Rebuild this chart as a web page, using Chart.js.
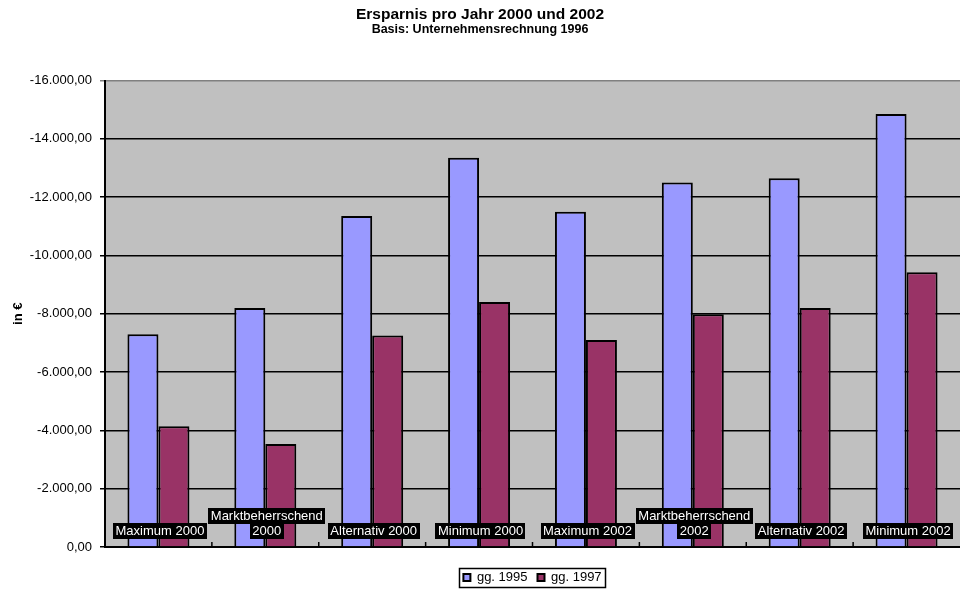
<!DOCTYPE html>
<html>
<head>
<meta charset="utf-8">
<script src="https://cdn.jsdelivr.net/npm/chart.js@4/dist/chart.umd.min.js"></script>
<style>
  html, body { margin: 0; padding: 0; background: #fff; }
  #wrap { width: 960px; height: 589px; }
</style>
</head>
<body>
<div id="wrap"><canvas id="savingsChart"></canvas></div>
<script>
// values (Euro, negative = saving)
const categories = [
    ['Maximum 2000'],
    ['Marktbeherrschend', '2000'],
    ['Alternativ 2000'],
    ['Minimum 2000'],
    ['Maximum 2002'],
    ['Marktbeherrschend', '2002'],
    ['Alternativ 2002'],
    ['Minimum 2002']
];
const seriesNames = ['gg. 1995', 'gg. 1997'];
const vs1995 = [-7300, -8200, -11350, -13350, -11500, -12500, -12650, -14850];
const vs1997 = [-4140, -3530, -7250, -8400, -7100, -7980, -8200, -9420];
const yMin = -16000;
const yMax = 0;
const yStep = 2000;

const fmtEuro = function (v) {
    let neg = v < 0;
    let s = Math.abs(Math.round(v)).toString();
    s = s.replace(/\B(?=(\d{3})+(?!\d))/g, '.');
    return (neg ? '-' : '') + s + ',00';
}

// gray plot area like the old office charts
const plotBackground = {
    id: 'plotBackground',
    beforeDraw(chart) {
        const {ctx, chartArea} = chart;
        ctx.save();
        ctx.fillStyle = '#C0C0C0';
        ctx.fillRect(chartArea.left, chartArea.top, chartArea.right - chartArea.left, chartArea.bottom - chartArea.top);
        ctx.restore();
    }
};

// category names sit inside the plot, white on black
const categoryLabels = {
    id: 'categoryLabels',
    afterDatasetsDraw(chart) {
        const {ctx, chartArea} = chart;
        const xScale = chart.scales.x;
        const lineH = 15.5;
        ctx.save();
        ctx.font = '13px Arial, "Liberation Sans", sans-serif';
        ctx.textAlign = 'center';
        ctx.textBaseline = 'middle';
        categories.forEach((lines, i) => {
            const cx = xScale.getPixelForValue(i) + 1.5;
            const lastY = chartArea.bottom - 16;
            lines.forEach((line, j) => {
                const y = lastY - (lines.length - 1 - j) * lineH;
                const w = ctx.measureText(line).width;
                ctx.fillStyle = '#000';
                ctx.fillRect(Math.round(cx - w / 2 - 2.5), Math.round(y - lineH / 2), Math.round(w + 5), lineH + 0.5);
                ctx.fillStyle = '#fff';
                ctx.fillText(line, cx, y + 0.5);
            });
        });
        // small inside tick marks between the categories
        ctx.strokeStyle = '#000';
        ctx.lineWidth = 1.5;
        const half = (xScale.getPixelForValue(1) - xScale.getPixelForValue(0)) / 2;
        for (let i = 1; i < categories.length; i++) {
            const x = xScale.getPixelForValue(i) - half;
            ctx.beginPath();
            ctx.moveTo(x, chartArea.bottom);
            ctx.lineTo(x, chartArea.bottom - 5);
            ctx.stroke();
        }
        ctx.restore();
    }
};

// framed legend box
const legendFrame = {
    id: 'legendFrame',
    afterDraw(chart) {
        const boxes = chart.legend && chart.legend.legendHitBoxes;
        if (!boxes || !boxes.length) return;
        let left = Math.min(...boxes.map(b => b.left)) - 4;
        let right = Math.max(...boxes.map(b => b.left + b.width)) + 4;
        let top = Math.min(...boxes.map(b => b.top)) - 3;
        let bottom = Math.max(...boxes.map(b => b.top + b.height)) + 3;
        const ctx = chart.ctx;
        ctx.save();
        ctx.strokeStyle = '#000';
        ctx.lineWidth = 1.5;
        ctx.strokeRect(Math.round(left) + 0.5, Math.round(top) + 0.5, Math.round(right - left), Math.round(bottom - top));
        ctx.restore();
    }
};

let config = {
    type: 'bar',
    data: {
        labels: categories,
        datasets: [
            {
                label: seriesNames[0],
                data: vs1995,
                backgroundColor: '#9999FF',
                borderColor: '#000000',
                borderWidth: 2
            },
            {
                label: seriesNames[1],
                data: vs1997,
                backgroundColor: '#993366',
                borderColor: '#000000',
                borderWidth: 2
            }
        ]
    },
    options: {
        responsive: true,
        maintainAspectRatio: false,
        animation: false,
        devicePixelRatio: 1,
        layout: {
            padding: {left: 0, right: 0, top: 0, bottom: -5}
        },
        datasets: {
            bar: {
                categoryPercentage: 0.58,
                barPercentage: 1.0
            }
        },
        plugins: {
            title: {
                display: true,
                text: 'Ersparnis pro Jahr 2000 und 2002',
                color: '#000',
                font: {family: 'Arial, "Liberation Sans", sans-serif', size: 15.5, weight: 'bold', lineHeight: 1.0},
                padding: {top: 7, bottom: 0}
            },
            subtitle: {
                display: true,
                text: 'Basis: Unternehmensrechnung 1996',
                color: '#000',
                font: {family: 'Arial, "Liberation Sans", sans-serif', size: 12.5, weight: 'bold', lineHeight: 1.2},
                padding: {top: 0, bottom: 43}
            },
            legend: {
                display: true,
                position: 'bottom',
                fullSize: false,
                labels: {
                    color: '#000',
                    font: {family: 'Arial, "Liberation Sans", sans-serif', size: 13},
                    boxWidth: 7,
                    boxHeight: 7,
                    padding: 10,
                    useBorderRadius: false
                }
            },
            tooltip: {enabled: false}
        },
        scales: {
            x: {
                afterFit: (scale) => { scale.height = 14; },
                grid: {display: false, drawTicks: false},
                border: {display: true, color: '#000', width: 2},
                ticks: {display: false}
            },
            y: {
                reverse: true,
                min: yMin,
                max: yMax,
                afterFit: (scale) => { scale.width = 105; },
                title: {
                    display: true,
                    text: 'in €',
                    color: '#000',
                    font: {family: 'Arial, "Liberation Sans", sans-serif', size: 13, weight: 'bold'},
                    padding: {top: 11, bottom: 0}
                },
                grid: {
                    color: (c) => (c.tick && c.tick.value === yMin) ? '#808080' : '#000',
                    lineWidth: 1.5,
                    tickLength: 5,
                    drawTicks: true
                },
                border: {display: true, color: '#000', width: 2},
                ticks: {
                    stepSize: yStep,
                    color: '#000',
                    padding: 8,
                    font: {family: 'Arial, "Liberation Sans", sans-serif', size: 13},
                    callback: (v) => fmtEuro(v)
                }
            }
        }
    },
    plugins: [plotBackground, categoryLabels, legendFrame]
};

let chartElement = document.getElementById('savingsChart').getContext('2d');
new Chart(chartElement, config);
</script>
</body>
</html>
